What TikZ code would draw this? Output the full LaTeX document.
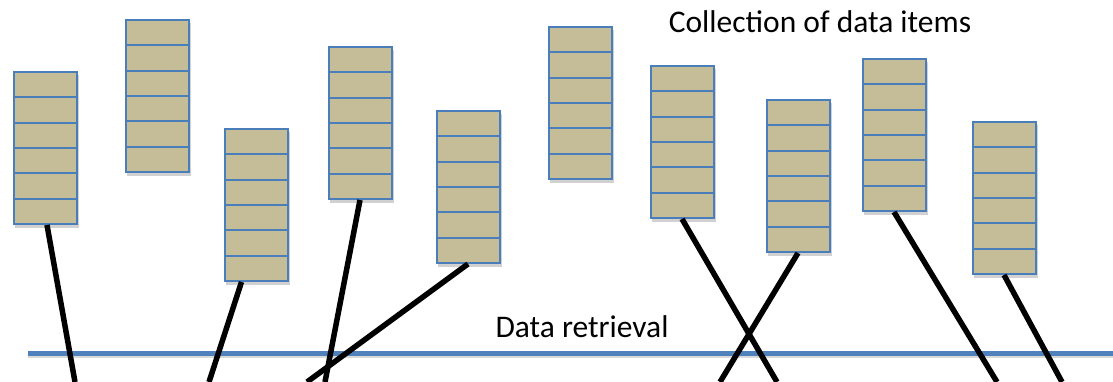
\documentclass[tikz,border=0pt]{standalone}
\usepackage{fontspec}
\setmainfont{Carlito}
\definecolor{celltan}{HTML}{C4BD97}
\definecolor{cellblue}{HTML}{4A7EBB}
\definecolor{lineblue}{HTML}{4F81BD}
\tikzset{
  cell/.style={rectangle, draw=cellblue, line width=2pt, fill=celltan,
    minimum width=63pt, minimum height=25.3pt, inner sep=0pt},
  stackshadow/.style={fill=black, opacity=0.18},
  fetch/.style={line width=5.5pt, black},
  label/.style={font=\fontsize{31.5}{34}\selectfont, inner sep=0pt}
}
\newcommand\datastack[3]{%
  \fill[stackshadow] ({#2+1.5}, {#3+3}) rectangle ({#2+65.5}, {#3+156});
  \foreach \j in {1,...,6}{
    \node[cell] (#1-\j) at ({#2+32}, {#3+(\j-0.5)*25.33}) {};
  }%
}
\begin{document}
\begin{tikzpicture}[x=1pt,y=-1pt]
\useasboundingbox (0,0) rectangle (1113,382);
\datastack{s1}{13}{72}
\datastack{s2}{125}{20}
\datastack{s3}{224}{129}
\datastack{s4}{328}{47}
\datastack{s5}{436}{111}
\datastack{s6}{548}{27}
\datastack{s7}{650}{66}
\datastack{s8}{766}{100}
\datastack{s9}{862}{59}
\datastack{s10}{972}{122}
\node[label] (title) at (820,22) {Collection of data items};
\node[label] (retr) at (582,327) {Data retrieval};
% retrieval line
\coordinate (bl) at (28,353);
\coordinate (br) at (1113,353);
\draw[line width=5pt, black!25, opacity=0.6] ([yshift=-2.5pt]bl) -- ([yshift=-2.5pt]br);
\draw[line width=5pt, lineblue] (bl) -- (br);
% fetch lines
\coordinate (e1) at (75,382);
\coordinate (e2) at (209,382);
\coordinate (e3) at (325,382);
\coordinate (e4) at (307,382);
\coordinate (e5) at (777,382);
\coordinate (e6) at (720,382);
\coordinate (e7) at (997,382);
\coordinate (e8) at (1062,382);
\draw[fetch] ([xshift=2pt]s1-6.south) -- (e1);
\draw[fetch] ([xshift=-14.5pt]s3-6.south) -- (e2);
\draw[fetch] (s4-6.south) -- (e3);
\draw[fetch] (s5-6.south) -- (e4);
\draw[fetch] (s7-6.south) -- (e5);
\draw[fetch] (s8-6.south) -- (e6);
\draw[fetch] (s9-6.south) -- (e7);
\draw[fetch] (s10-6.south) -- (e8);
\end{tikzpicture}
\end{document}
